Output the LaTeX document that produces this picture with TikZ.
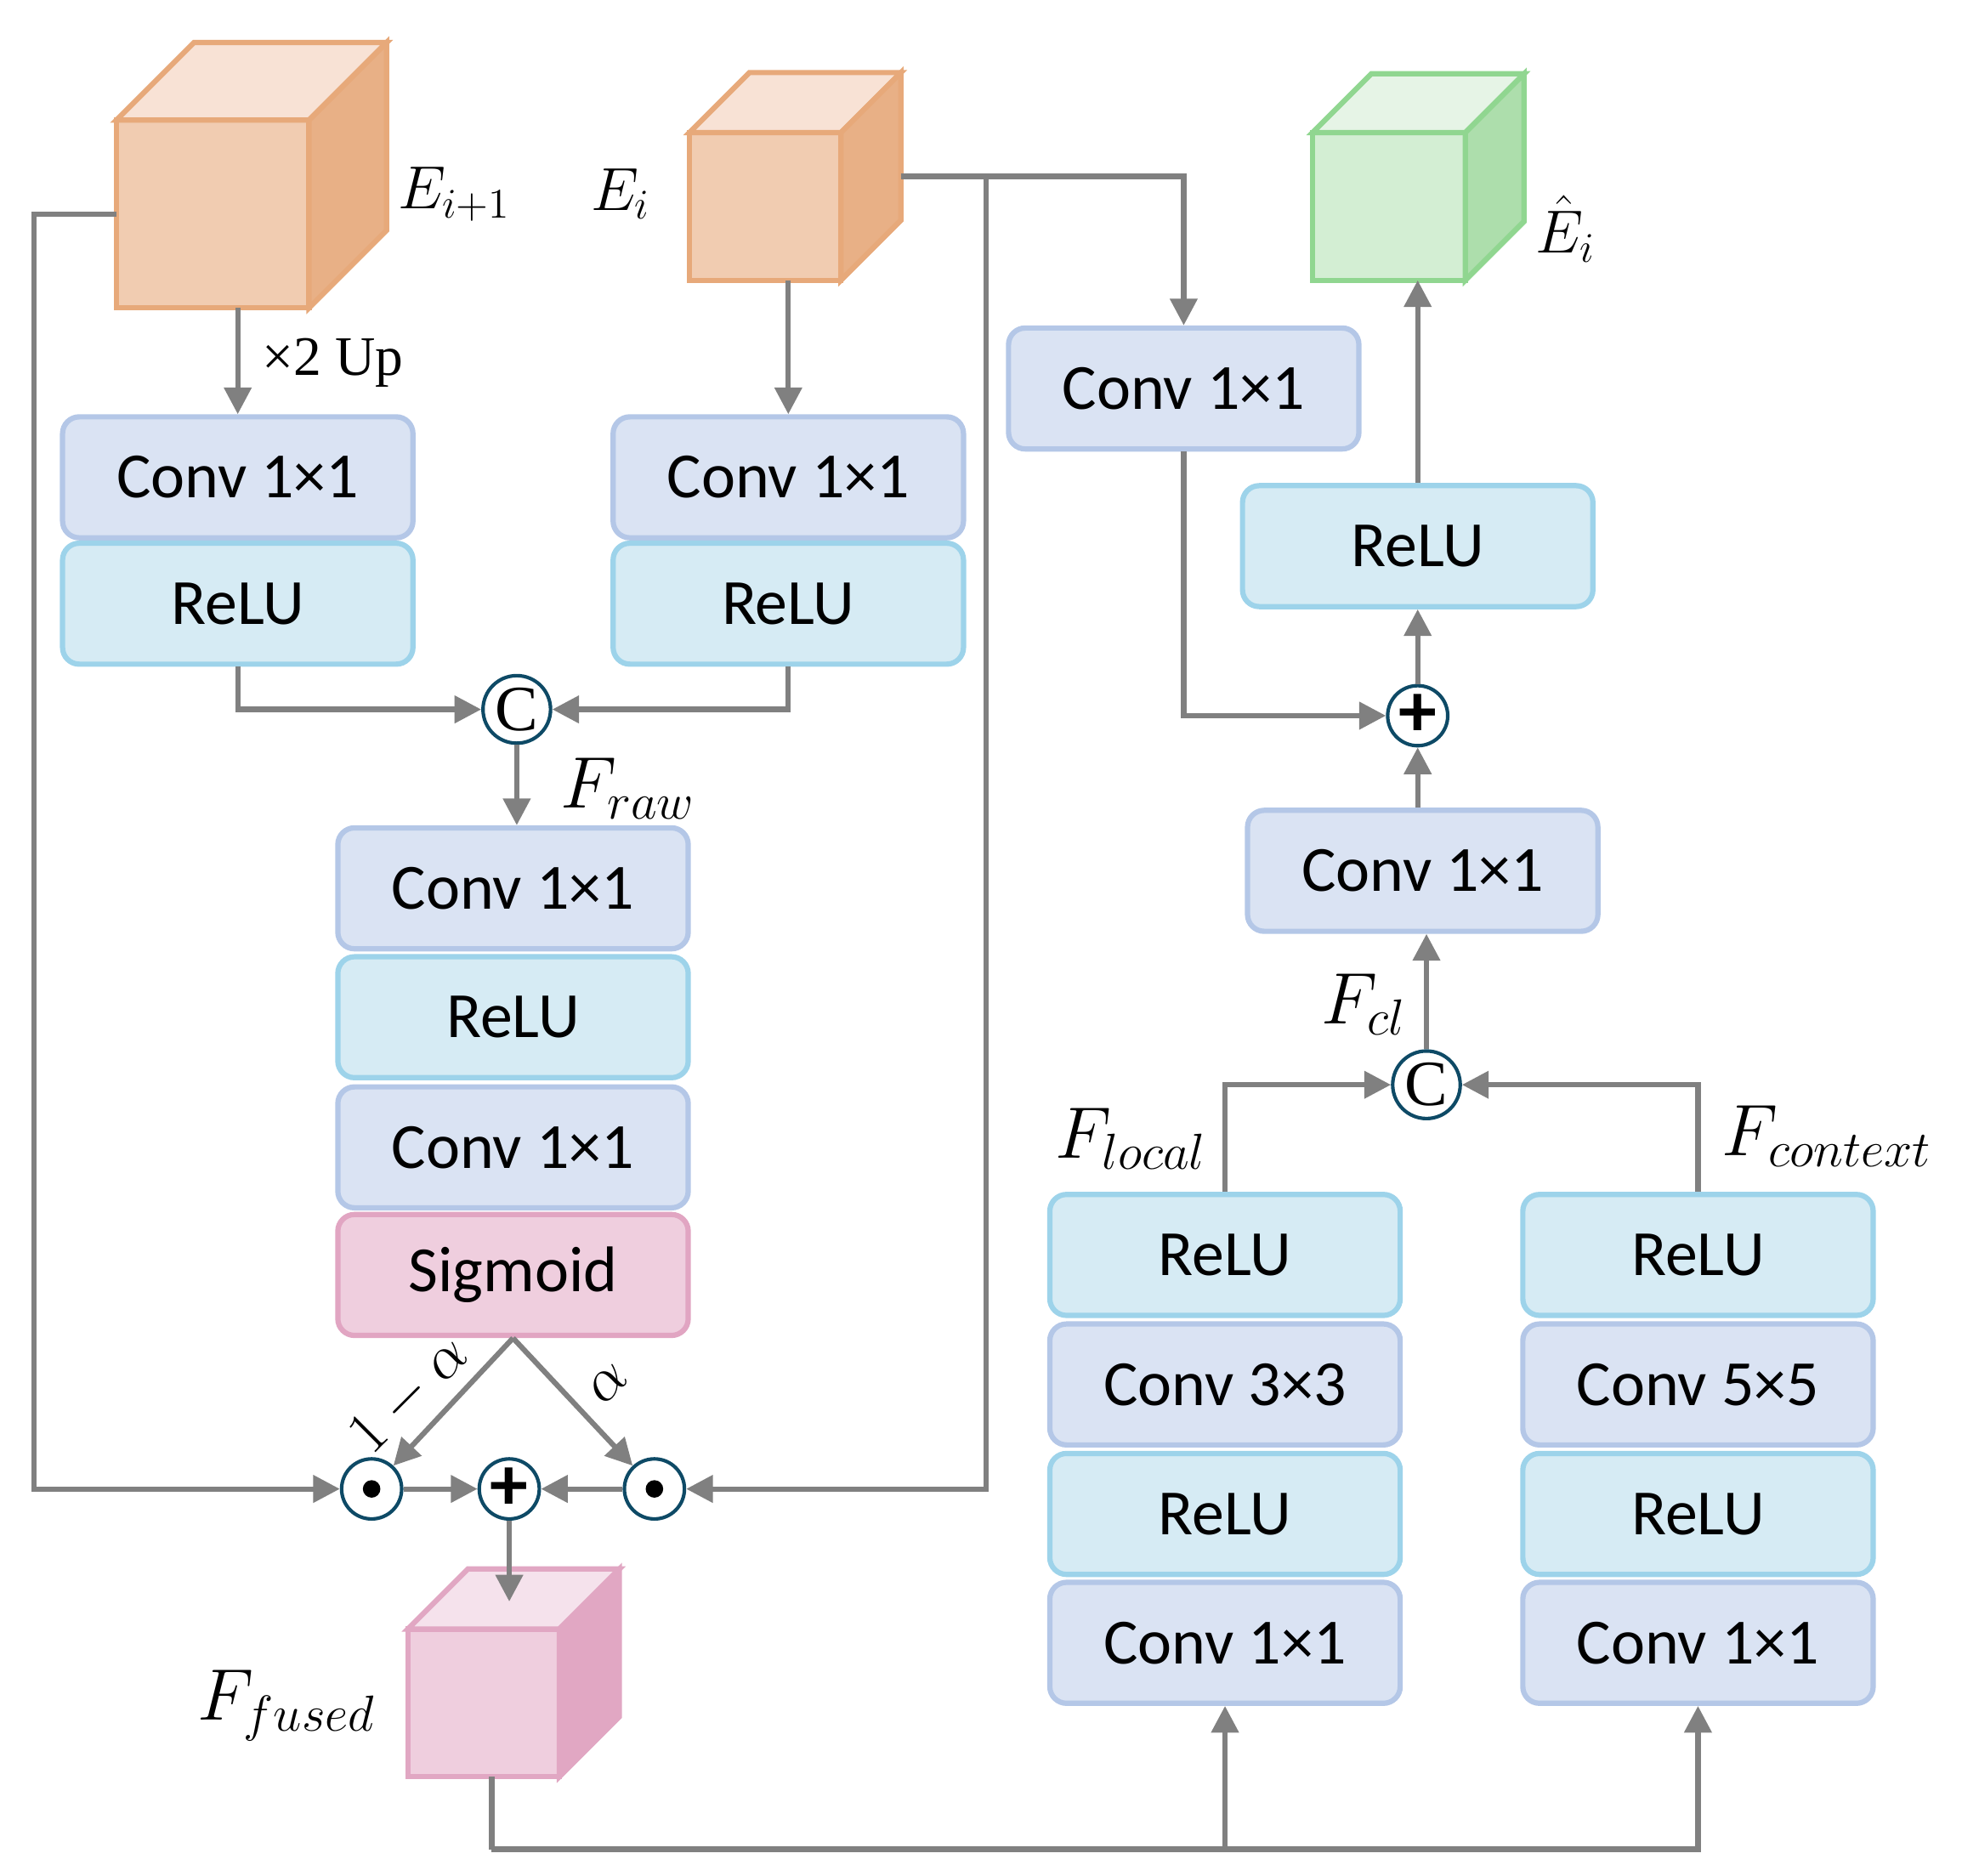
\documentclass[tikz,border=0pt]{standalone}
\usepackage{fontspec}
\setmainfont{Carlito}
\newfontfamily\timesf{Liberation Serif}
\usetikzlibrary{arrows.meta,calc}
\definecolor{convfill}{HTML}{DAE3F3}
\definecolor{convdraw}{HTML}{B4C7E7}
\definecolor{relufill}{HTML}{D6EBF4}
\definecolor{reludraw}{HTML}{9DD3EA}
\definecolor{sigfill}{HTML}{EFCEDE}
\definecolor{sigdraw}{HTML}{E1A5C2}
\definecolor{lin}{HTML}{808080}
\definecolor{opdraw}{HTML}{0E4A66}
\definecolor{orfront}{HTML}{F1CCB1}
\definecolor{ortop}{HTML}{F8E2D5}
\definecolor{orside}{HTML}{E8B086}
\definecolor{ordraw}{HTML}{E7A97A}
\definecolor{grfront}{HTML}{D3EED3}
\definecolor{grtop}{HTML}{E6F4E6}
\definecolor{grside}{HTML}{ADDEAC}
\definecolor{grdraw}{HTML}{90D690}
\definecolor{pkfront}{HTML}{EFCEDE}
\definecolor{pktop}{HTML}{F5E2EC}
\definecolor{pkside}{HTML}{E1A7C3}
\definecolor{pkdraw}{HTML}{E1A7C3}
\newcommand\mycube[5]{%
 \filldraw[fill=#3,draw=#5,line width=1.8pt] (#1.north west) -- ++(#2,-#2) -- ($(#1.north east)+(#2,-#2)$) -- (#1.north east) -- cycle;
 \filldraw[fill=#4,draw=#5,line width=1.8pt] (#1.north east) -- ++(#2,-#2) -- ($(#1.south east)+(#2,-#2)$) -- (#1.south east) -- cycle;
}
\begin{document}
\begin{tikzpicture}[x=0.015cm,y=-0.015cm,
 blk/.style={rounded corners=0.2cm, line width=1.8pt, minimum width=4.2cm, minimum height=1.45cm, inner sep=0pt, font=\fontsize{22}{26}\selectfont},
 convb/.style={blk, fill=convfill, draw=convdraw},
 relub/.style={blk, fill=relufill, draw=reludraw},
 sigb/.style={blk, fill=sigfill, draw=sigdraw},
 arr/.style={draw=lin, line width=1.8pt, -{Triangle[length=0.32cm,width=0.32cm]}},
 ln/.style={draw=lin, line width=1.8pt},
 opc/.style={circle, draw=opdraw, line width=1.2pt, fill=white, minimum size=0.72cm, inner sep=0pt},
 catc/.style={opc, minimum size=0.81cm, font=\timesf\fontsize{22}{22}\selectfont},
 addc/.style={opc, font=\fontsize{26}{26}\selectfont\bfseries},
 cubef/.style={rectangle, line width=1.8pt, inner sep=0pt, outer sep=0pt},
 lbl/.style={font=\fontsize{22}{26}\selectfont, inner sep=0pt},
 elbl/.style={font=\fontsize{21}{26}\selectfont, inner sep=0pt},
 flbl/.style={font=\fontsize{24}{28}\selectfont, inner sep=0pt},
 albl/.style={font=\fontsize{20}{24}\selectfont, inner sep=0pt, rotate=45},
]
\useasboundingbox (0,0) rectangle (1568,1499);

% cubes
\node[cubef, fill=orfront, draw=ordraw, minimum width=2.31cm, minimum height=2.25cm] (Ei1) at (170,171) {};
\mycube{Ei1}{62}{ortop}{orside}{ordraw}
\node[cubef, fill=orfront, draw=ordraw, minimum width=1.815cm, minimum height=1.77cm] (Ei) at (611.5,165) {};
\mycube{Ei}{48}{ortop}{orside}{ordraw}
\node[cubef, fill=grfront, draw=grdraw, minimum width=1.83cm, minimum height=1.77cm] (G) at (1110,165) {};
\mycube{G}{47}{grtop}{grside}{grdraw}
\node[cubef, fill=pkfront, draw=pkdraw, minimum width=1.815cm, minimum height=1.77cm] (Ff) at (386.5,1361) {};
\mycube{Ff}{48}{pktop}{pkside}{pkdraw}

% left columns
\node[convb] (ca) at (190,381.5) {Conv 1×1};
\node[relub] (ra) at (190,482.5) {ReLU};
\node[convb] (cb) at (630,381.5) {Conv 1×1};
\node[relub] (rb) at (630,482.5) {ReLU};
\node[catc] (C1) at (413,567) {C};
% middle column
\node[convb] (m1) at (410,710) {Conv 1×1};
\node[relub] (m2) at (410,813) {ReLU};
\node[convb] (m3) at (410,917) {Conv 1×1};
\node[sigb] (m4) at (410,1019) {Sigmoid};
\node[opc] (mul1) at (297,1190) {};
\node[addc] (add1) at (407,1190) {+};
\node[opc] (mul2) at (523,1190) {};
\fill (mul1.center) circle[radius=0.105cm];
\fill (mul2.center) circle[radius=0.105cm];

% right part
\node[convb] (cr) at (946,310.5) {Conv 1×1};
\node[relub] (rr) at (1133,436.5) {ReLU};
\node[addc] (add2) at (1133,572) {+};
\node[convb] (cr2) at (1137,696) {Conv 1×1};
\node[catc] (C2) at (1140,867) {C};
\node[relub] (l1) at (979,1003) {ReLU};
\node[convb] (l2) at (979,1106.5) {Conv 3×3};
\node[relub] (l3) at (979,1210) {ReLU};
\node[convb] (l4) at (979,1313) {Conv 1×1};
\node[relub] (x1) at (1357,1003) {ReLU};
\node[convb] (x2) at (1357,1106.5) {Conv 5×5};
\node[relub] (x3) at (1357,1210) {ReLU};
\node[convb] (x4) at (1357,1313) {Conv 1×1};

% coordinates
\coordinate (Lx) at (27,0);
\coordinate (EiR) at (720,141);
\coordinate (Bx) at (788,141);
\coordinate (Fftop) at (0,1280);
\coordinate (Ffout) at (393,0);
\coordinate (bot) at (393,1478);

% connectors
\draw[arr] (Ei1.west) -- (Ei1.west -| Lx) -- (Lx |- mul1) -- (mul1);
\draw[arr] (ca.north |- Ei1.south) -- (ca.north);
\draw[arr] (cb.north |- Ei.south) -- (cb.north);
\draw[arr] (EiR) -| (cr.north);
\draw[arr] (Bx) |- (mul2.east);
\draw[arr] (ra.south) |- (C1.west);
\draw[arr] (rb.south) |- (C1.east);
\draw[arr] (C1.south) -- (C1.south |- m1.north);
\draw[arr] (m4.south) -- (mul1);
\draw[arr] (m4.south) -- (mul2);
\draw[arr] (mul1) -- (add1);
\draw[arr] (mul2) -- (add1);
\draw[arr] (add1.south) -- (add1.south |- Fftop);
\draw[ln] (Ffout |- Ff.south) -- (bot);
\draw[arr] (bot) -| (x4.south);
\draw[arr] (bot -| l4.south) -- (l4.south);
\draw[arr] (cr.south) |- (add2.west);
\draw[arr] (add2.north) -- (add2.north |- rr.south);
\draw[arr] (add2 |- cr2.north) -- (add2.south);
\draw[arr] (rr.north) -- (rr.north |- G.south);
\draw[arr] (C2.north) -- (C2.north |- cr2.south);
\draw[arr] (l1.north) |- (C2.west);
\draw[arr] (x1.north) |- (C2.east);

% labels
\node[elbl] (lE1) at (363,155) {$E_{i+1}$};
\node[elbl] (lE) at (496,155) {$E_i$};
\node[elbl] (lEh) at (1251,183) {$\hat{E}_i$};
\node[lbl, font=\timesf\fontsize{19}{22}\selectfont] (lup) at (266,290) {×2 Up};
\node[flbl] (lraw) at (502,630) {$F_{raw}$};
\node[flbl] (lcl) at (1090,803) {$F_{cl}$};
\node[flbl] (lloc) at (904,910) {$F_{local}$};
\node[flbl] (lctx) at (1460,908) {$F_{context}$};
\node[flbl] (lfus) at (229,1363) {$F_{fused}$};
\node[albl] (l1a) at (327,1115) {$1-\alpha$};
\node[albl] (la) at (486,1106) {$\alpha$};
\end{tikzpicture}
\end{document}
